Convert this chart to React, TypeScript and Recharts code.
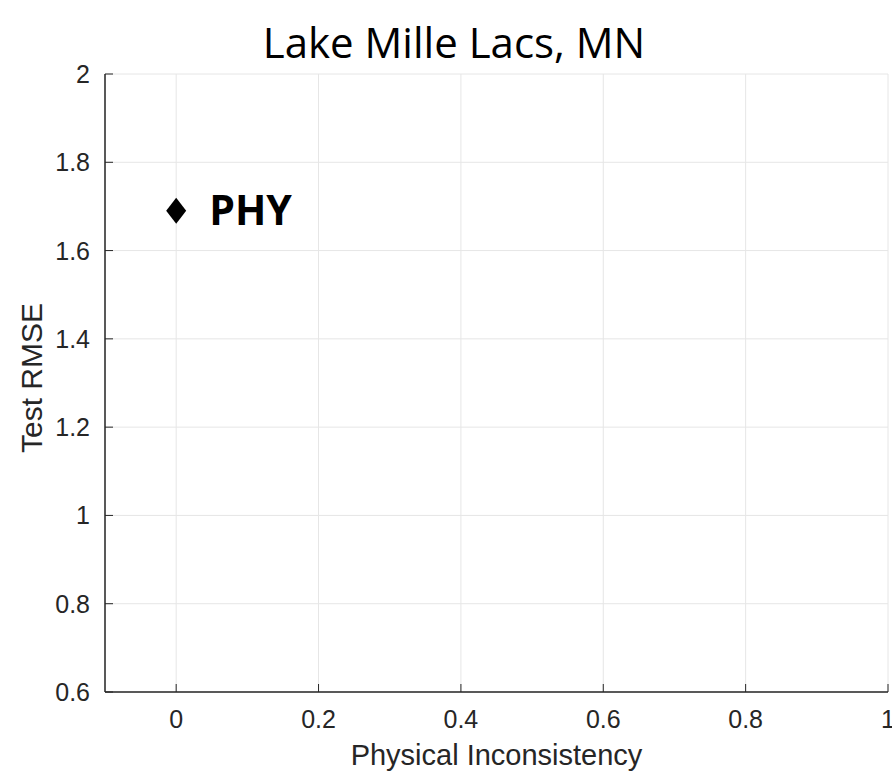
import { ScatterChart, Scatter, XAxis, YAxis, CartesianGrid, LabelList } from 'recharts';

// physical inconsistency vs. test RMSE for the lake model
const modelNames = ['PHY'];
const inconsistency = [0];
const testRmse = [1.69];

const xTicks = [0, 0.2, 0.4, 0.6, 0.8, 1];
const yTicks = [0.6, 0.8, 1, 1.2, 1.4, 1.6, 1.8, 2];

const points = modelNames.map((name, i) => ({ name, x: inconsistency[i], y: testRmse[i] }));

const axisColor = '#262626';
const tickFont = '"Liberation Sans", Arial, sans-serif';

const fmt = (v: number) => String(Number(v.toFixed(1)));

// MATLAB-style ticks: short marks pointing into the plot
const XTick = ({ x, y, payload }: any) => (
  <g>
    <line x1={x} y1={y} x2={x} y2={y - 8} stroke={axisColor} strokeWidth={1} />
    <text x={x} y={y + 36} textAnchor="middle" fontSize={25} fontFamily={tickFont} fill={axisColor}>
      {fmt(payload.value)}
    </text>
  </g>
);

const YTick = ({ x, y, payload }: any) => (
  <g>
    <line x1={x} y1={y} x2={x + 8} y2={y} stroke={axisColor} strokeWidth={1} />
    <text x={x - 15} y={y + 9} textAnchor="end" fontSize={25} fontFamily={tickFont} fill={axisColor}>
      {fmt(payload.value)}
    </text>
  </g>
);

const XLabel = ({ viewBox }: any) => (
  <text
    x={viewBox.x + viewBox.width / 2}
    y={viewBox.y + 73}
    textAnchor="middle"
    fontSize={29}
    fontFamily={tickFont}
    fill={axisColor}
  >
    Physical Inconsistency
  </text>
);

const YLabel = ({ viewBox }: any) => {
  const cx = 42;
  const cy = viewBox.y + viewBox.height / 2 - 5;
  return (
    <text
      x={cx}
      y={cy}
      transform={`rotate(-90, ${cx}, ${cy})`}
      textAnchor="middle"
      fontSize={30}
      fontFamily={tickFont}
      fill={axisColor}
    >
      Test RMSE
    </text>
  );
};

const Diamond = ({ cx, cy }: any) => (
  <polygon points={`${cx},${cy - 13} ${cx + 10},${cy} ${cx},${cy + 13} ${cx - 10},${cy}`} fill="#000" />
);

const PointLabel = ({ x, y, width, height, value }: any) => (
  <text
    x={x + width / 2 + 33}
    y={y + height / 2 + 14}
    fontSize={41}
    fontWeight="bold"
    fontFamily='"Open Sans", sans-serif'
    fill="#000"
  >
    {value}
  </text>
);

export default function App() {
  return (
    <div style={{ position: 'relative', width: 892, height: 776, background: '#fff' }}>
      <style>{'html { overflow: hidden; } body { margin: 0; }'}</style>
      <svg width={892} height={74} style={{ position: 'absolute', top: 0, left: 0 }}>
        <text x={454} y={58} textAnchor="middle" fontSize={42} fontFamily='"Open Sans", sans-serif' fill="#000">
          Lake Mille Lacs, MN
        </text>
      </svg>
      <ScatterChart width={892} height={776} margin={{ top: 74, right: 4, bottom: 0, left: 0 }}>
        <CartesianGrid stroke="#e6e6e6" strokeWidth={1} />
        <XAxis
          type="number"
          dataKey="x"
          domain={[-0.1, 1]}
          ticks={xTicks}
          tickSize={0}
          tickMargin={0}
          tickLine={false}
          tick={<XTick />}
          height={84}
          axisLine={{ stroke: axisColor, strokeWidth: 1.5 }}
          label={<XLabel />}
        />
        <YAxis
          type="number"
          dataKey="y"
          domain={[0.6, 2]}
          ticks={yTicks}
          tickSize={0}
          tickMargin={0}
          tickLine={false}
          tick={<YTick />}
          width={105}
          axisLine={{ stroke: axisColor, strokeWidth: 1.5 }}
          label={<YLabel />}
        />
        <Scatter data={points} shape={<Diamond />} isAnimationActive={false}>
          <LabelList dataKey="name" content={<PointLabel />} />
        </Scatter>
      </ScatterChart>
    </div>
  );
}
